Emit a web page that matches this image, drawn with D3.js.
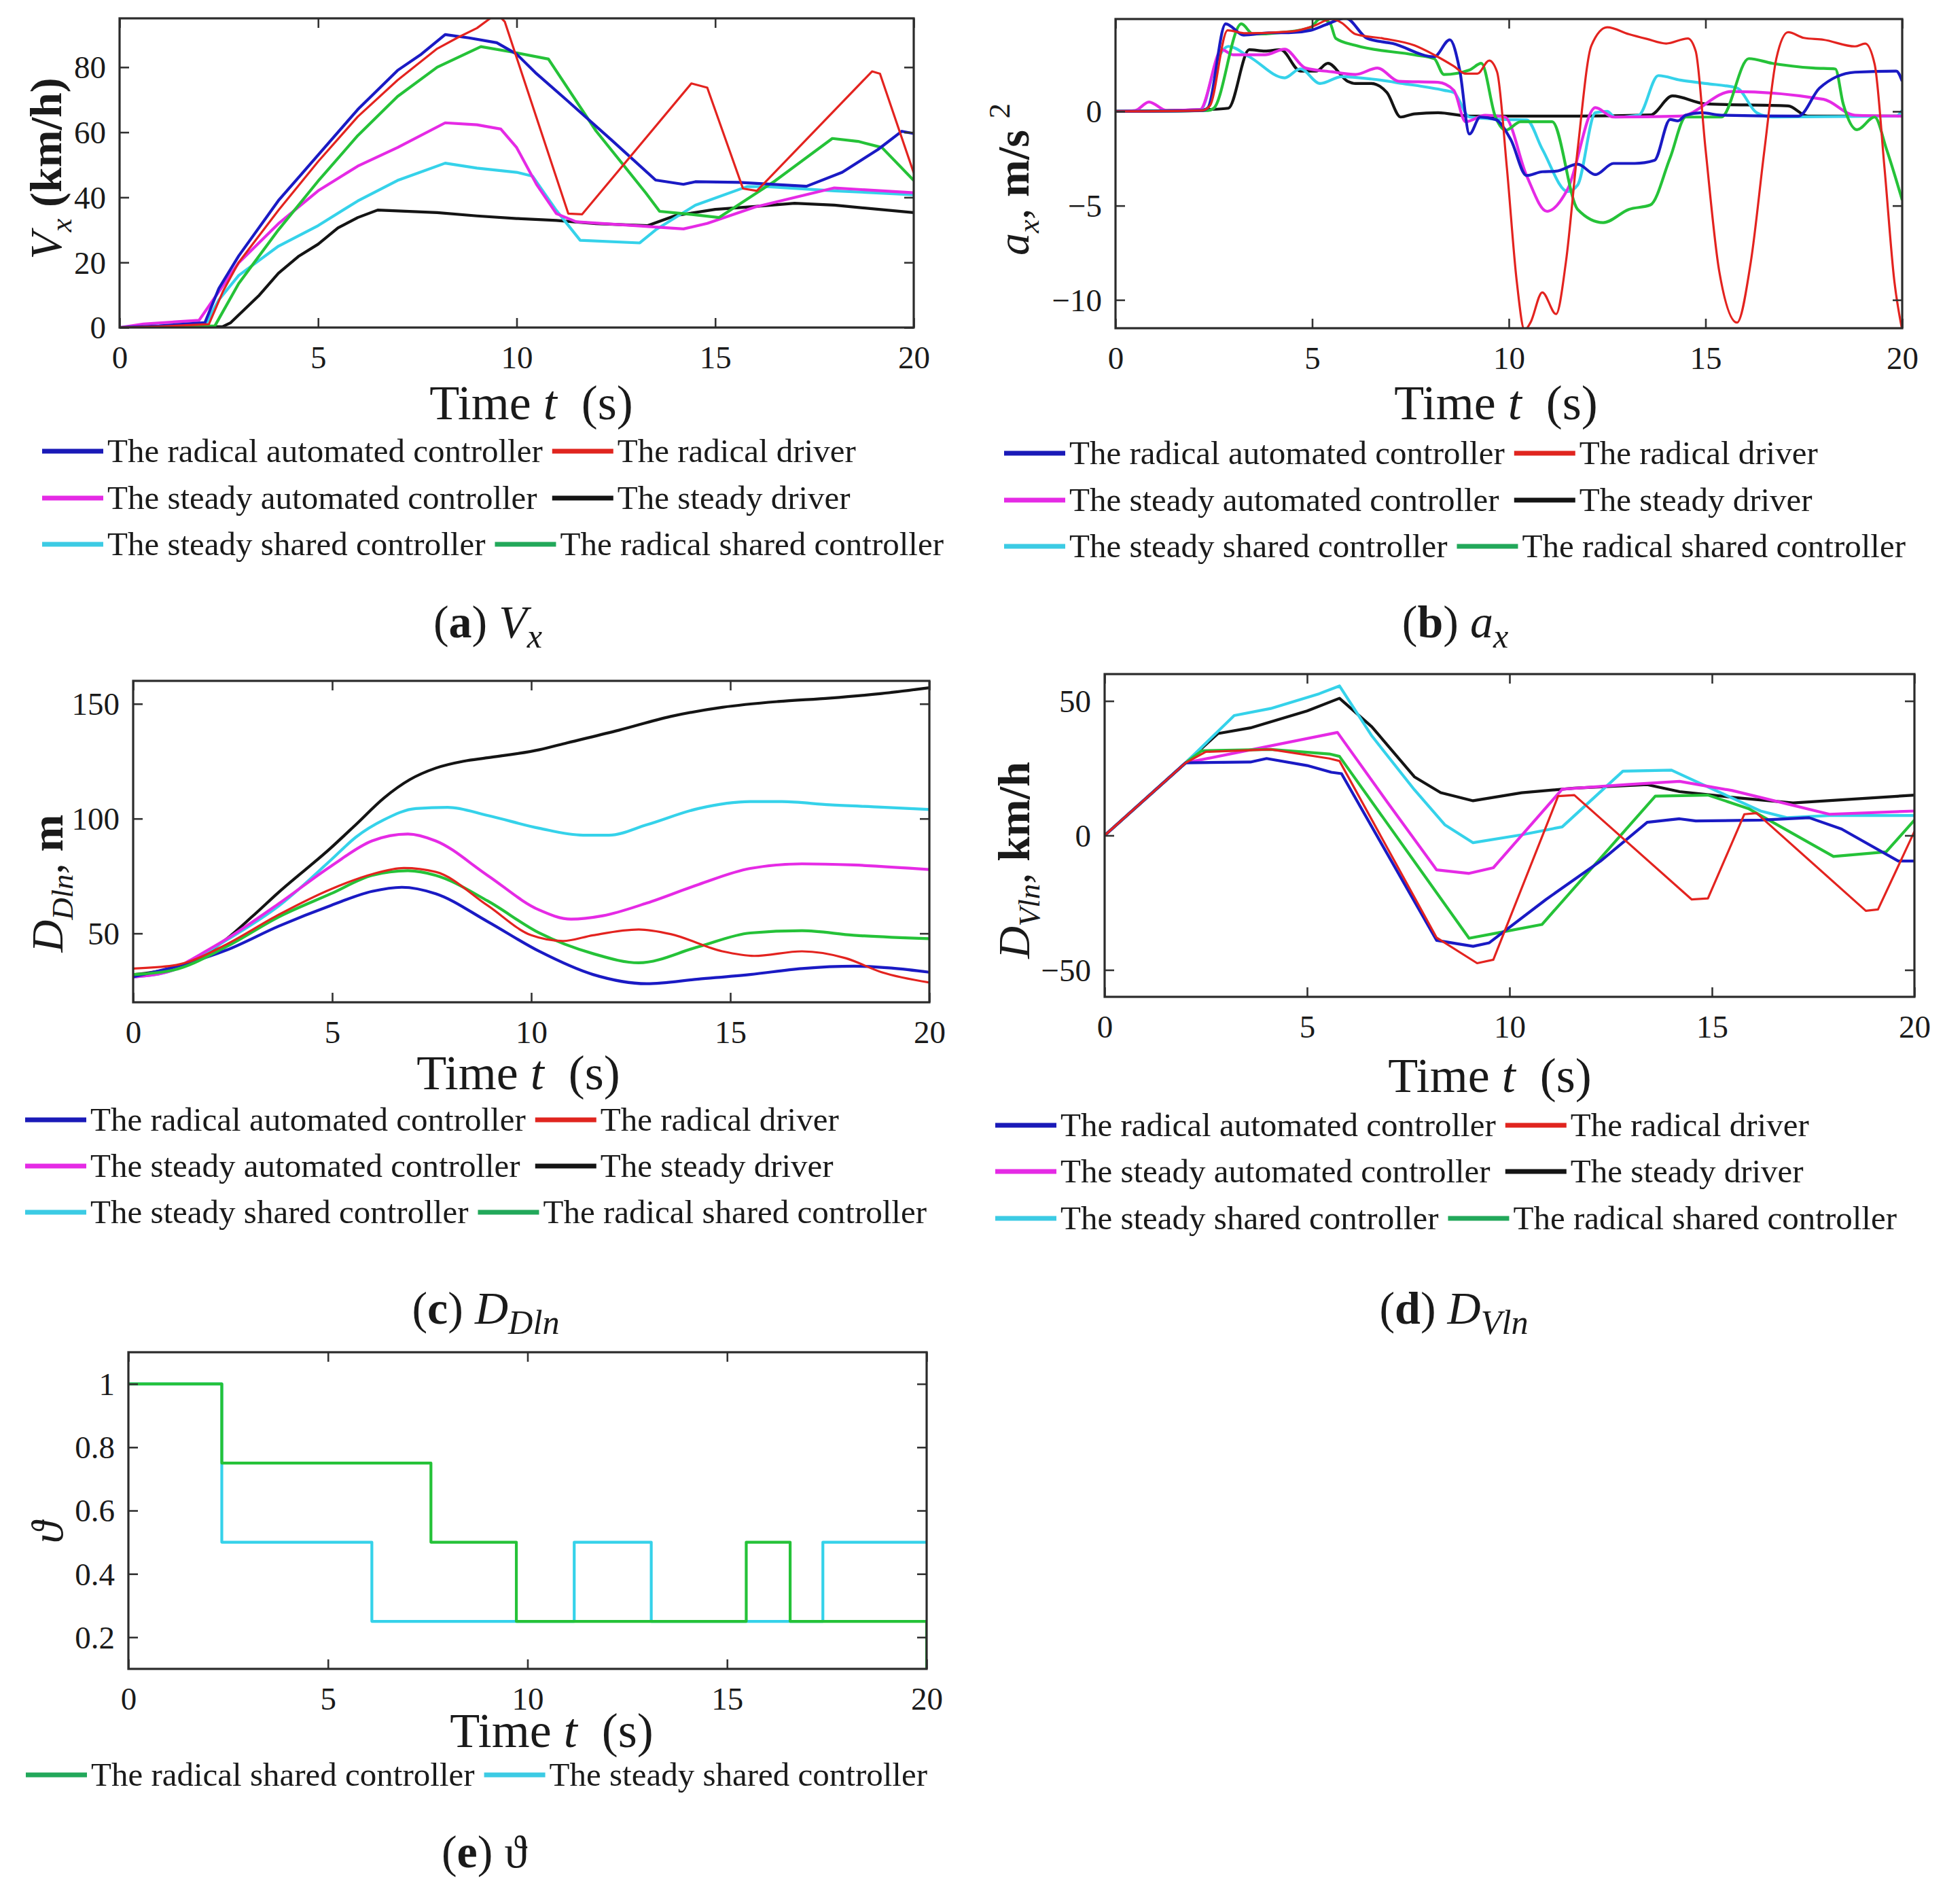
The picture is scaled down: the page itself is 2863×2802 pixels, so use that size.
<!DOCTYPE html>
<html><head><meta charset="utf-8">
<script src="https://cdn.jsdelivr.net/npm/d3@7"></script>
<style>
body{margin:0;background:#fff}
svg{display:block}
text{font-family:"Liberation Serif","Times New Roman",serif;fill:#1a1a1a;white-space:pre}
</style>
</head><body>
<svg id="chart" width="2863" height="2802"></svg>
<script>
// ---------------- shared ----------------
const timeTicks = [0, 5, 10, 15, 20];
const seriesKeys = ["radAuto", "radDriver", "steadyAuto", "steadyDriver", "steadyShared", "radShared"];
const seriesLabels = {
  radAuto: "The radical automated controller",
  radDriver: "The radical driver",
  steadyAuto: "The steady automated controller",
  steadyDriver: "The steady driver",
  steadyShared: "The steady shared controller",
  radShared: "The radical shared controller"
};
const lineColor = {radAuto:"#1a1ac4", radDriver:"#e3231f", steadyAuto:"#e52ae5", steadyDriver:"#141414", steadyShared:"#35d2ea", radShared:"#25c238"};
const legendColor = {radAuto:"#1a1ab8", radDriver:"#e0251f", steadyAuto:"#e52ae5", steadyDriver:"#141414", steadyShared:"#3ccbe4", radShared:"#22a85a"};

// ---------------- (a) Vx ----------------
const vxTicks = [0, 20, 40, 60, 80];
const vxRadAuto = [[0,0],[1,0.5],[2.15,1.5],[2.5,12],[3,22],[4,39],[5,53],[6,67],[7,79],[7.6,84],[8.2,90],[8.8,89],[9.5,87.5],[10,84],[10.5,78],[11.25,70],[12.4,57.5],[13.5,45.3],[14.2,44],[14.5,44.8],[15.6,44.6],[17.3,43.4],[18.2,47.7],[19.1,54.7],[19.7,60.3],[20,59.6]];
const vxRadDriver = [[0,0],[1,0.3],[2.25,1],[2.6,11],[3,20],[4,36],[5,51],[6,64.8],[7,76],[8,85.7],[8.5,89],[9,92],[9.5,96.5],[9.7,94],[11.3,35],[11.65,34.8],[14.4,75],[14.8,73.7],[15.7,42.7],[16.05,42],[18.95,78.7],[19.15,78],[20,47.5]];
const vxSteadyAuto = [[0,0],[0.6,1.1],[2.0,2.2],[2.5,11],[3,19.9],[4,31.9],[5,42],[6,49.6],[7,55.3],[8.2,62.9],[9,62.3],[9.6,61],[10,55.3],[10.5,44],[11,35],[11.5,32.5],[13,31.3],[14.2,30.3],[14.8,32],[16,37],[18,42.9],[20,41.4]];
const vxSteadyDriver = [[0,0],[2.6,0.3],[2.8,1.5],[3.5,9.7],[4,16.7],[4.5,21.8],[5,25.6],[5.5,30.6],[6,33.8],[6.5,36.1],[8,35.3],[9,34.3],[10,33.5],[11,32.9],[12,31.9],[13.3,31.3],[14,34.4],[15,36.3],[16,37.2],[17,38.2],[18,37.6],[20,35.3]];
const vxSteadyShared = [[0,0],[2.15,0.5],[2.5,8.5],[3,16],[4,25],[5,31.3],[6,38.9],[7,45.2],[8.2,50.5],[9,49],[10,47.7],[10.4,46.5],[11,36],[11.6,26.8],[13.1,26],[13.5,30],[14.5,37.6],[15.8,43.3],[16.3,43.3],[18,42],[20,40.8]];
const vxRadShared = [[0,0],[2.4,0.5],[3,13.5],[4,30],[5,45],[6,59],[7,71],[8,80],[9.1,86.3],[10,84.4],[10.8,82.5],[12,60.4],[13.25,41.4],[13.6,35.7],[14.2,35],[15.1,33.8],[16.5,45],[17.95,58.1],[18.6,57.2],[19.2,55.3],[20,45.2]];

// ---------------- (b) ax ----------------
const axTicks = [-10, -5, 0];
const axRadAuto = [[0,0],[2.2,0.05],[2.35,0.2],[2.8,4.64],[3.26,4.05],[3.9,4.17],[4.4,4.17],[4.96,4.3],[5.35,4.6],[5.85,4.95],[6.4,3.87],[7.05,3.6],[8.1,2.9],[8.5,3.8],[8.75,2.2],[9.0,-1.2],[9.27,-0.3],[9.66,-0.43],[10.05,-1.5],[10.45,-3.4],[10.85,-3.2],[11.2,-3.17],[11.75,-2.8],[12.2,-3.35],[12.66,-2.76],[13.2,-2.76],[13.7,-2.6],[14.1,-0.43],[14.3,-0.5],[14.5,-0.2],[14.9,-0.07],[15.4,-0.2],[17.36,-0.25],[17.9,1.24],[18.8,2.08],[19.85,2.14],[20,1.6]];
const axRadDriver = [[0,0],[2.2,0.05],[2.4,0.3],[2.85,4.3],[3.3,4.15],[4.5,4.25],[5.0,4.5],[5.5,4.9],[5.75,4.7],[6.1,4.1],[6.8,3.87],[7.6,3.5],[8.1,3.0],[8.6,2.4],[8.9,2.0],[9.2,2.0],[9.5,2.7],[9.7,2.1],[9.95,-3],[10.2,-9],[10.4,-11.6],[10.55,-11.2],[10.85,-9.6],[11.2,-10.75],[11.45,-8],[11.75,-2],[12.1,3.5],[12.5,4.46],[13.05,4.1],[13.5,3.85],[14.0,3.6],[14.55,3.87],[14.75,3.2],[15.0,-2],[15.35,-8.5],[15.8,-11.2],[16.15,-8],[16.5,-2],[16.8,2.8],[17.1,4.2],[17.5,3.9],[18.0,3.8],[18.8,3.45],[19.06,3.6],[19.3,2.5],[19.55,-3],[19.8,-9],[20,-11.6]];
const axSteadyAuto = [[0,0],[0.5,0.05],[0.85,0.5],[1.3,0.05],[2.15,0.1],[2.7,3.27],[3.0,3.0],[3.8,3.0],[4.3,3.3],[4.83,2.3],[5.5,2.1],[6.1,1.96],[6.66,2.3],[7.2,1.6],[8.2,1.54],[8.6,1.12],[8.9,-0.55],[9.4,-0.2],[9.9,-0.3],[10.45,-3.4],[10.97,-5.3],[11.5,-4.1],[12.2,0.2],[12.66,-0.3],[14.36,-0.25],[15.67,1.06],[18.0,0.64],[18.8,-0.2],[20,-0.25]];
const axSteadyDriver = [[0,0],[2.35,0.1],[2.87,0.17],[3.4,3.27],[3.8,3.2],[4.2,3.27],[4.7,2.14],[5.1,2.14],[5.4,2.55],[5.9,1.6],[6.1,1.48],[6.5,1.48],[6.9,1.0],[7.25,-0.3],[7.6,-0.13],[8.2,-0.07],[9.0,-0.25],[11.75,-0.25],[13.6,-0.19],[14.16,0.82],[15.0,0.4],[17.1,0.29],[17.6,-0.25],[20,-0.25]];
const axSteadyShared = [[0,0],[2.15,0.05],[2.6,2.8],[2.87,3.45],[3.4,2.9],[4.3,1.78],[4.7,2.26],[5.2,1.48],[5.75,1.84],[6.5,1.72],[7.3,1.48],[8.35,1.12],[8.6,1.0],[9.0,-0.3],[9.9,-0.43],[10.45,-0.45],[10.85,-2.0],[11.5,-4.25],[11.75,-3.9],[12.2,-0.07],[12.5,0.0],[12.7,-0.3],[13.3,-0.2],[13.8,1.9],[14.36,1.66],[15.0,1.48],[15.8,1.24],[16.3,-0.07],[16.7,-0.3],[19.85,-0.25],[20,0.05]];
const axRadShared = [[0,0],[2.35,0.05],[2.5,0.17],[3.2,4.64],[3.5,4.1],[4.3,4.2],[4.96,4.46],[5.2,4.9],[5.45,4.7],[5.6,3.87],[6.1,3.5],[7.6,3.0],[8.1,2.8],[8.35,1.96],[9.0,2.2],[9.3,2.55],[9.66,-0.3],[9.92,-1.0],[10.3,-0.55],[11.1,-0.55],[11.75,-5.2],[12.4,-5.9],[13.05,-5.2],[13.6,-4.96],[14.1,-2.46],[14.5,-0.3],[15.4,-0.3],[16.1,2.8],[16.7,2.55],[17.75,2.3],[18.3,2.25],[18.5,0.4],[18.85,-0.97],[19.3,-0.3],[19.6,-2.0],[20,-4.7]];

// ---------------- (c) DDln ----------------
const ddTicks = [50, 100, 150];
const ddRadAuto = [[0,31.1],[1.4,37.2],[2.34,42.7],[3.66,53.2],[4.97,62.2],[6.0,68.3],[6.75,70.1],[7.6,67.3],[8.9,55.2],[10.2,42.2],[11.55,32.1],[12.9,28.1],[14.2,30.1],[15.5,32.1],[16.8,34.7],[18.1,35.7],[20,33.1]];
const ddRadDriver = [[0,34.7],[1,36],[1.4,37.7],[2.34,45.2],[3.66,58.2],[4.97,69.3],[6.0,75.8],[6.8,78.5],[7.6,76.8],[8.9,62.2],[10.0,49.2],[10.8,46.7],[11.55,49.2],[12.7,51.7],[13.5,49.7],[14.8,42.2],[15.6,40.2],[16.8,42.2],[17.9,39.2],[18.8,33.1],[20,28.6]];
const ddSteadyAuto = [[0,31],[1,34],[1.4,38],[2.34,47.5],[3.66,63],[4.97,79.3],[6.0,90.3],[6.9,93.3],[7.6,90.3],[8.9,75.3],[10.2,60.2],[11.0,56.2],[11.8,57.7],[12.9,63.2],[14.2,71.3],[15.5,78.3],[16.8,80.3],[18.1,79.8],[20,77.8]];
const ddSteadyDriver = [[0,32],[1,35],[1.7,40],[2.34,47.5],[3,57.5],[3.66,68],[4.97,87.3],[5.6,97.5],[6.3,109],[6.95,117],[7.6,122],[8.3,125],[8.9,126.5],[10.2,130],[10.9,133],[12.2,138.5],[13.5,144.5],[14.8,148.5],[16.2,151],[17.5,152.5],[18.8,154.5],[20,157]];
const ddSteadyShared = [[0,31],[1,34],[1.4,37.5],[2.34,47],[3.66,62],[4.97,82],[5.6,92],[6.3,99.5],[7.1,104.4],[7.9,104.9],[8.9,101.4],[10.2,95.8],[11.3,92.8],[11.95,92.8],[12.9,97.3],[14.2,104.4],[15.5,107.4],[16.3,107.4],[17.5,106],[18.8,105],[20,104]];
const ddRadShared = [[0,32.1],[1,34],[2.34,44.2],[3.66,57.2],[4.97,67.3],[6.0,75.3],[6.9,77.3],[7.6,75.3],[8.9,64.2],[10.2,50.2],[11.55,41.2],[12.7,37.2],[14.2,44.2],[15.5,50.2],[16.8,51.2],[18.1,49.2],[20,47.7]];

// ---------------- (d) DVln ----------------
const dvTicks = [-50, 0, 50];
const dvRadAuto = [[0,0],[2.0,27],[3.6,27.3],[4.0,28.6],[5.0,26],[5.6,23.5],[5.85,23],[8.2,-39],[9.1,-41.2],[9.5,-39.9],[10.9,-23.8],[12.25,-9.5],[13.4,4.9],[14.2,6.2],[14.6,5.4],[16.2,5.7],[17.4,6.6],[18.2,2.4],[19.6,-9.5],[20,-9.5]];
const dvRadDriver = [[0,0],[2.0,27],[2.5,31.1],[4.1,32],[5.55,28.6],[5.8,27.7],[8.2,-38],[9.2,-47.5],[9.6,-46.2],[11.2,14.6],[11.6,15],[14.5,-23.8],[14.9,-23.4],[15.8,7.9],[16.1,8.3],[18.8,-28],[19.1,-27.5],[20,1.5]];
const dvSteadyAuto = [[0,0],[2.0,27],[5.75,38.3],[7.0,12],[8.2,-12.8],[9.0,-14.1],[9.6,-12],[11.3,17.2],[12.9,18.9],[14.2,20.1],[15.5,16.7],[17.9,7.9],[20,9.1]];
const dvSteadyDriver = [[0,0],[2.0,27],[2.8,37.9],[3.6,40],[5.0,46.3],[5.8,51],[6.6,40.4],[7.65,21.8],[8.3,15.9],[9.1,12.9],[10.3,15.9],[11.6,17.6],[13.4,18.9],[14.2,16.3],[15.5,14.2],[17.0,12.1],[20,15]];
const dvSteadyShared = [[0,0],[2.0,27],[3.2,44.6],[4.1,47.2],[5.3,52.7],[5.8,55.6],[6.6,37],[7.65,17],[8.4,4],[9.1,-2.7],[10.3,0.25],[11.3,3.2],[12.8,23.9],[14.0,24.3],[14.6,20.1],[16.2,9.1],[16.85,6.6],[17.9,7.4],[20,7.4]];
const dvRadShared = [[0,0],[2.0,27],[2.4,31.5],[4.1,32],[5.55,30.3],[5.8,29.4],[9.0,-38.2],[9.75,-36.1],[10.8,-33.1],[13.6,14.6],[14.9,15],[15.9,10],[18.0,-7.8],[19.3,-6.1],[20,5.7]];

// ---------------- (e) theta ----------------
const thTicks = [0.2, 0.4, 0.6, 0.8, 1];
const thRadShared = [[0,1],[2.34,0.75],[7.58,0.5],[9.72,0.25],[15.48,0.5],[16.58,0.25],[20,0.25],[20,0.1]];
const thSteadyShared = [[0,1],[2.34,0.5],[6.1,0.25],[11.17,0.5],[13.1,0.25],[17.4,0.5],[20,0.5]];

// ---------------- layout ----------------
const legendRows6 = [["radAuto","radDriver"],["steadyAuto","steadyDriver"],["steadyShared","radShared"]];
const panels = [
  {id:"a", box:[176,27,1345,482], yDomain:[0,95], yTicks:vxTicks, curve:d3.curveLinear,
   series:{radAuto:vxRadAuto, radDriver:vxRadDriver, steadyAuto:vxSteadyAuto, steadyDriver:vxSteadyDriver, steadyShared:vxSteadyShared, radShared:vxRadShared},
   order:["steadyDriver","steadyShared","steadyAuto","radShared","radAuto","radDriver"],
   ylab:{x:90, y:248, parts:[{t:"V",i:1},{t:"x",i:1,sub:1},{t:" (km/h)",b:1}]},
   title:{x:782, y:617}, legend:{x:62, rows:[664,733,801], items:legendRows6},
   caption:{x:718, y:938, parts:[{t:"("},{t:"a",b:1},{t:") "},{t:"V",i:1},{t:"x",i:1,sub:1}]}},
  {id:"b", box:[1642,28,2800,483], yDomain:[-11.5,4.9], yTicks:axTicks, curve:d3.curveMonotoneX,
   series:{radAuto:axRadAuto, radDriver:axRadDriver, steadyAuto:axSteadyAuto, steadyDriver:axSteadyDriver, steadyShared:axSteadyShared, radShared:axRadShared},
   order:["steadyDriver","steadyShared","steadyAuto","radShared","radAuto","radDriver"],
   ylab:{x:1514, y:264, parts:[{t:"a",i:1},{t:"x",i:1,sub:1},{t:", "},{t:"m/s",b:1},{t:" "},{t:"2",sup:1}]},
   title:{x:2202, y:617}, legend:{x:1478, rows:[667,736,804], items:legendRows6},
   caption:{x:2142, y:938, parts:[{t:"("},{t:"b",b:1},{t:") "},{t:"a",i:1},{t:"x",i:1,sub:1}]}},
  {id:"c", box:[196,1002,1368,1475], yDomain:[20,160], yTicks:ddTicks, curve:d3.curveMonotoneX,
   series:{radAuto:ddRadAuto, radDriver:ddRadDriver, steadyAuto:ddSteadyAuto, steadyDriver:ddSteadyDriver, steadyShared:ddSteadyShared, radShared:ddRadShared},
   order:["steadyDriver","steadyShared","steadyAuto","radAuto","radShared","radDriver"],
   ylab:{x:92, y:1300, parts:[{t:"D",i:1},{t:"Dln",i:1,sub:1},{t:", "},{t:"m",b:1}]},
   title:{x:763, y:1603}, legend:{x:37, rows:[1648,1716,1784], items:legendRows6},
   caption:{x:715, y:1948, parts:[{t:"("},{t:"c",b:1},{t:") "},{t:"D",i:1},{t:"Dln",i:1,sub:1}]}},
  {id:"d", box:[1626,992,2818,1467], yDomain:[-60,60], yTicks:dvTicks, curve:d3.curveLinear,
   series:{radAuto:dvRadAuto, radDriver:dvRadDriver, steadyAuto:dvSteadyAuto, steadyDriver:dvSteadyDriver, steadyShared:dvSteadyShared, radShared:dvRadShared},
   order:["steadyDriver","steadyShared","steadyAuto","radShared","radAuto","radDriver"],
   ylab:{x:1515, y:1266, parts:[{t:"D",i:1},{t:"Vln",i:1,sub:1},{t:", "},{t:"km/h",b:1}]},
   title:{x:2193, y:1607}, legend:{x:1465, rows:[1656,1724,1793], items:legendRows6},
   caption:{x:2140, y:1948, parts:[{t:"("},{t:"d",b:1},{t:") "},{t:"D",i:1},{t:"Vln",i:1,sub:1}]}},
  {id:"e", box:[189,1990,1364,2456], yDomain:[0.1,1.1], yTicks:thTicks, curve:d3.curveStepAfter,
   series:{steadyShared:thSteadyShared, radShared:thRadShared},
   order:["steadyShared","radShared"],
   ylab:{x:92, y:2255, parts:[{t:"\u03D1",i:1}]},
   title:{x:812, y:2571}, legend:{x:38, rows:[2612], items:[["radShared","steadyShared"]]},
   caption:{x:713, y:2748, parts:[{t:"("},{t:"e",b:1},{t:") "},{t:"\u03D1"}]}}
];

const svg = d3.select("#chart");
const TICK_FS = 47, TITLE_FS = 72, LEG_FS = 49, YLAB_FS = 66, CAP_FS = 68;
const fmt = d3.format("~g");

function rich(sel, parts, fs, subScale) {
  const ss = subScale || 0.68;
  let shift = 0;
  parts.forEach(p => {
    const ts = sel.append("tspan").text(p.t);
    let target = 0, size = fs;
    if (p.sub) { target = fs * 0.22; size = fs * ss; }
    if (p.sup) { target = -fs * 0.42; size = fs * 0.68; }
    ts.attr("font-size", size);
    if (target !== shift) { ts.attr("dy", target - shift); shift = target; }
    if (p.i) ts.attr("font-style", "italic");
    if (p.b) ts.attr("font-weight", "bold");
  });
}

panels.forEach(P => {
  const [x0, y0, x1, y1] = P.box;
  const g = svg.append("g").attr("class", "panel-" + P.id);
  const x = d3.scaleLinear().domain([0, 20]).range([x0, x1]);
  const y = d3.scaleLinear().domain(P.yDomain).range([y1, y0]);

  const clipId = "clip-" + P.id;
  g.append("clipPath").attr("id", clipId).append("rect")
    .attr("x", x0).attr("y", y0).attr("width", x1 - x0).attr("height", y1 - y0);

  const line = d3.line().x(d => x(d[0])).y(d => y(d[1])).curve(P.curve);
  const lines = g.append("g").attr("clip-path", `url(#${clipId})`);
  P.order.forEach(k => {
    lines.append("path").datum(P.series[k])
      .attr("d", line).attr("fill", "none")
      .attr("stroke", lineColor[k])
      .attr("stroke-width", k === "radDriver" ? 3.2 : 4.2)
      .attr("stroke-linejoin", "round");
  });

  // axes: ticks inside on all four sides
  const TL = 14;
  const ax = g.append("g").attr("transform", `translate(0,${y1})`)
    .call(d3.axisBottom(x).tickValues(timeTicks).tickSize(-TL).tickFormat(fmt));
  g.append("g").attr("transform", `translate(0,${y0})`)
    .call(d3.axisTop(x).tickValues(timeTicks).tickSize(-TL).tickFormat(""));
  const ay = g.append("g").attr("transform", `translate(${x0},0)`)
    .call(d3.axisLeft(y).tickValues(P.yTicks).tickSize(-TL).tickPadding(20).tickFormat(fmt));
  g.append("g").attr("transform", `translate(${x1},0)`)
    .call(d3.axisRight(y).tickValues(P.yTicks).tickSize(-TL).tickFormat(""));
  g.selectAll(".domain").remove();
  g.selectAll(".tick line").attr("stroke", "#333").attr("stroke-width", 2.6);
  g.selectAll(".tick text").attr("font-family", '"Liberation Serif","Times New Roman",serif')
    .attr("font-size", TICK_FS).attr("fill", "#1a1a1a");
  ax.selectAll(".tick text").attr("dy", "0").attr("y", 60);
  ay.selectAll(".tick text").attr("dy", "0.34em");

  g.append("rect").attr("x", x0).attr("y", y0).attr("width", x1 - x0).attr("height", y1 - y0)
    .attr("fill", "none").attr("stroke", "#2b2b2b").attr("stroke-width", 3.2);

  // x title
  const tt = g.append("text").attr("x", P.title.x).attr("y", P.title.y)
    .attr("text-anchor", "middle").attr("font-size", TITLE_FS);
  rich(tt, [{t:"Time "},{t:"t",i:1},{t:"  (s)"}], TITLE_FS);

  // y label
  const yl = g.append("text").attr("text-anchor", "middle").attr("font-size", YLAB_FS)
    .attr("transform", `translate(${P.ylab.x},${P.ylab.y}) rotate(-90)`);
  rich(yl, P.ylab.parts, YLAB_FS);

  // legend
  const lg = g.append("g");
  const SAMPLE = 90, TXT = 96, GAP = 14;
  let col2 = null;
  P.legend.items.forEach((row, ri) => {
    const yy = P.legend.rows[ri];
    let cx = P.legend.x;
    row.forEach((k, ci) => {
      lg.append("line").attr("x1", cx).attr("x2", cx + SAMPLE).attr("y1", yy).attr("y2", yy)
        .attr("stroke", legendColor[k]).attr("stroke-width", 7);
      const t = lg.append("text").attr("x", cx + TXT).attr("y", yy + 16)
        .attr("font-size", LEG_FS).text(seriesLabels[k]);
      const w = t.node().getComputedTextLength();
      let next = cx + TXT + w + GAP;
      if (ri === 0 && ci === 0) col2 = next;
      if (ri === 1 && ci === 0 && P.legend.items.length === 3) next = col2;
      cx = next;
    });
  });

  // caption
  const cp = g.append("text").attr("x", P.caption.x).attr("y", P.caption.y)
    .attr("text-anchor", "middle").attr("font-size", CAP_FS);
  rich(cp, P.caption.parts, CAP_FS, 0.74);
});
</script>
</body></html>
